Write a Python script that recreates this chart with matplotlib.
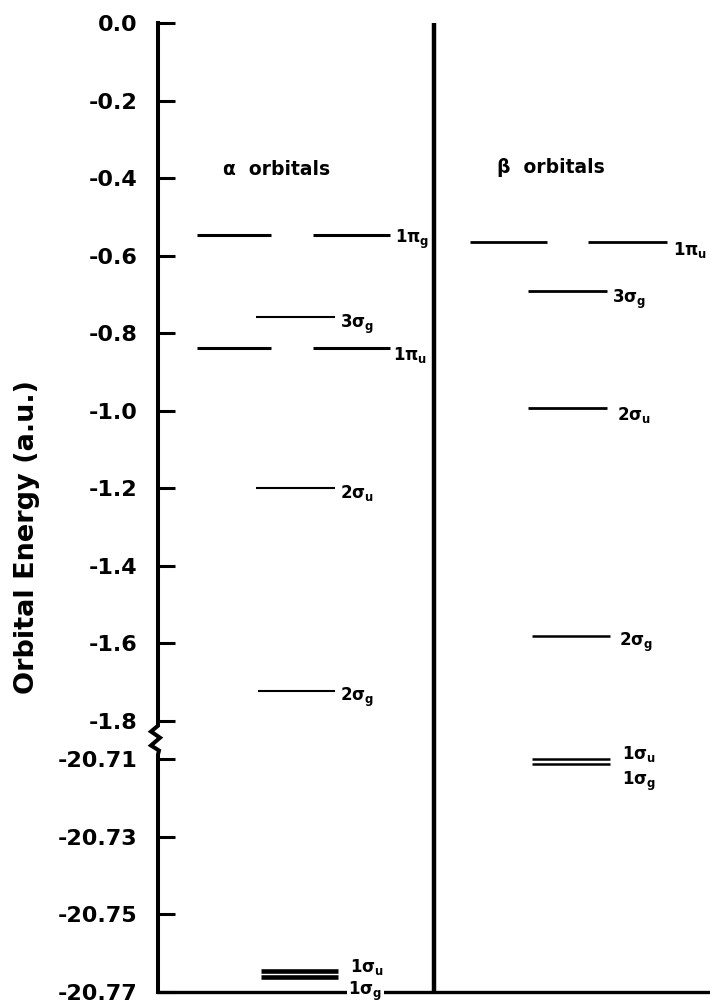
import numpy as np
import matplotlib
matplotlib.use("Agg")
import matplotlib.pyplot as plt

plt.rcParams['font.family'] = ['DejaVu Sans']
plt.rcParams['font.weight'] = 'bold'
plt.rcParams['mathtext.default'] = 'regular'

# orbital energies (a.u.)
alpha_names = ["1πg", "3σg", "1πu", "2σu", "2σg", "1σu", "1σg"]
alpha_energy = [-0.547, -0.759, -0.839, -1.200, -1.724, -20.7646, -20.7661]
beta_names = ["1πu", "3σg", "2σu", "2σg", "1σu", "1σg"]
beta_energy = [-0.565, -0.692, -0.994, -1.582, -20.7100, -20.7112]

ytick_vals = [0.0, -0.2, -0.4, -0.6, -0.8, -1.0, -1.2, -1.4, -1.6, -1.8,
              -20.71, -20.73, -20.75, -20.77]
ytick_text = ["0.0", "-0.2", "-0.4", "-0.6", "-0.8", "-1.0", "-1.2", "-1.4",
              "-1.6", "-1.8", "-20.71", "-20.73", "-20.75", "-20.77"]

# broken energy axis: valence part as is, core part magnified 10x
BRK_HI, BRK_LO = -1.8, -20.71
GAP = 0.1
STRETCH = 10.0

def fwd(e):
    e = np.asarray(e, dtype=float)
    mid = BRK_HI - GAP * (BRK_HI - e) / (BRK_HI - BRK_LO)
    low = BRK_HI - GAP + (e - BRK_LO) * STRETCH
    return np.where(e >= BRK_HI, e, np.where(e >= BRK_LO, mid, low))

def inv(v):
    v = np.asarray(v, dtype=float)
    mid = BRK_HI - (BRK_HI - v) / GAP * (BRK_HI - BRK_LO)
    low = BRK_LO + (v - (BRK_HI - GAP)) / STRETCH
    return np.where(v >= BRK_HI, v, np.where(v >= BRK_HI - GAP, mid, low))

def lab(name):
    return name[:-1] + "$_{" + name[-1] + "}$"

# layout: x spans of each level bar, line widths, label x / y offset (pt)
pi_a = [(0.141, 0.409), (0.562, 0.841)]
pi_b = [(1.130, 1.409), (1.558, 1.844)]
alpha_spans = [pi_a, [(0.355, 0.641)], pi_a, [(0.355, 0.641)], [(0.362, 0.641)],
               [(0.373, 0.652)], [(0.373, 0.652)]]
alpha_lw = [2.2, 1.5, 2.2, 1.5, 1.5, 3.3, 3.3]
alpha_lab = [(0.859, -3.2), (0.659, -5.4), (0.851, -4.7), (0.659, -3.2),
             (0.659, -4.7), (0.696, 2.9), (0.690, -10.5)]
beta_spans = [pi_b, [(1.341, 1.627)], [(1.341, 1.627)], [(1.355, 1.638)],
              [(1.355, 1.638)], [(1.355, 1.638)]]
beta_lw = [2.0, 2.0, 2.0, 1.8, 1.8, 1.8]
beta_lab = [(1.866, -6.1), (1.645, -6.1), (1.663, -4.7), (1.670, -4.7),
            (1.681, 4.0), (1.681, -12.2)]

fig = plt.figure(figsize=(7.1, 10.02), dpi=100)
ax = fig.add_axes([158 / 710, 10 / 1002, 552 / 710, 969 / 1002])
ax.set_yscale('function', functions=(fwd, inv))
ax.set_ylim(-20.77, 0.0)
ax.set_xlim(0, 2)

def draw(names, energy, spans, lws, labs):
    for n, e, sp, lw, (lx, dy) in zip(names, energy, spans, lws, labs):
        for x0, x1 in sp:
            ax.hlines(e, x0, x1, color='k', lw=lw)
        bb = dict(fc='white', ec='none', pad=1) if (n == "1σg" and e < -20.765) else None
        ax.annotate(lab(n), (lx, e), xytext=(0, dy), textcoords='offset points',
                    ha='left', va='center', fontsize=12, fontweight='bold',
                    bbox=bb, zorder=4)

draw(alpha_names, alpha_energy, alpha_spans, alpha_lw, alpha_lab)
draw(beta_names, beta_energy, beta_spans, beta_lw, beta_lab)

ax.axvline(1.0, color='k', lw=3.2)

ax.text(0.431, -0.379, "α  orbitals", ha='center', va='center', fontsize=13.5)
ax.text(1.424, -0.374, "β  orbitals", ha='center', va='center', fontsize=13.5)

# left axis line with a zig-zag across the break
span = BRK_LO - BRK_HI
zz_f = [0.0, 0.13, 0.28, 0.44, 0.64, 0.77, 0.87, 1.0]
zz_x = [0, 0, -7, 2, -7, 1, 0, 0]
ys = [0.0] + [BRK_HI + f * span for f in zz_f] + [-20.77]
xs = [0] + [v / 552 for v in zz_x] + [0]
ax.plot(xs, ys, color='k', lw=2.9, transform=ax.get_yaxis_transform(),
        clip_on=False, solid_joinstyle='miter')

for s in ['top', 'right', 'left']:
    ax.spines[s].set_visible(False)
ax.spines['bottom'].set_linewidth(2.4)

ax.set_xticks([])
ax.set_yticks(ytick_vals, ytick_text)
ax.tick_params(axis='y', direction='in', length=12, width=2.2, pad=15,
               labelsize=16)
ax.yaxis.set_minor_locator(matplotlib.ticker.NullLocator())

fig.text(27 / 710, 1 - 537 / 1002, "Orbital Energy (a.u.)", rotation=90,
         ha='center', va='center', fontsize=19.5, fontweight='bold')

fig.savefig("out.png", dpi=100)
